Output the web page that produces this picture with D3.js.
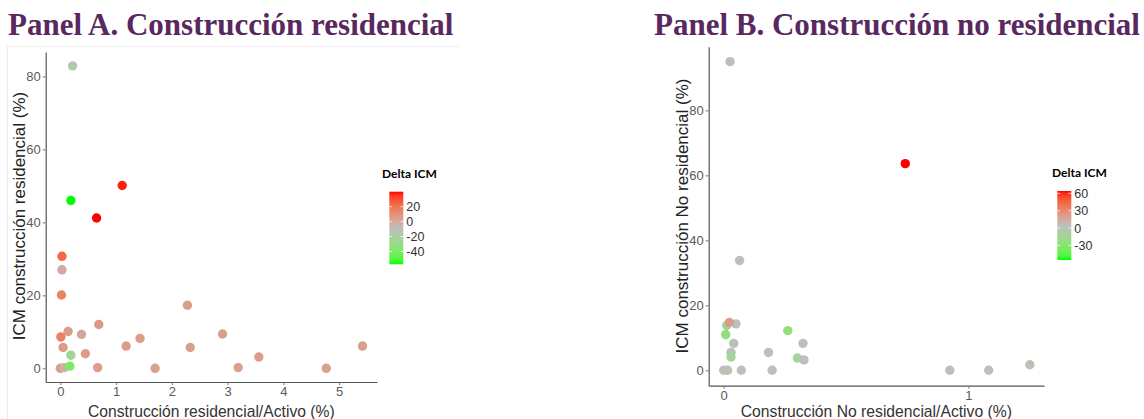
<!DOCTYPE html>
<html>
<head>
<meta charset="utf-8">
<script src="https://cdn.jsdelivr.net/npm/d3@7"></script>
<style>
  html, body { margin: 0; padding: 0; background: #fff; }
  svg { display: block; }
</style>
</head>
<body>
<svg id="chart" width="1144" height="419"></svg>
<script>
// Panel A: residential construction
const resShare = [0.22, 0.19, 1.11, 0.65, 0.03, 0.03, 0.02, 2.28, 0.69, 0.14, 0.38, 0.01, 1.43, 2.91,
                  1.18, 2.33, 5.42, 0.05, 0.45, 3.56, 0.00, 0.07, 0.67, 1.70, 3.19, 4.77, 0.19, 0.17];
const resICM   = [82.9, 46.0, 50.1, 41.2, 30.7, 27.0, 20.1, 17.3, 12.0, 10.1, 9.3, 8.6, 8.2, 9.4,
                  6.1, 5.7, 6.1, 5.7, 4.0, 3.1, 0.0, 0.2, 0.2, 0.0, 0.2, 0.0, 3.6, 0.6];
const resDelta = [-16, -57, 38, 40, 24, 0, 15, 5, 7, 6, 1, 15, 5, 5,
                  5, 4, 4, 6, 5, 5, 4, -3, 5, 4, 4, 4, -24, -40];
const resLimits = [-57, 40];
const resBreaks = [20, 0, -20, -40];

// Panel B: non-residential construction
const nresShare = [0.026, 0.742, 0.065, 0.012, 0.050, 0.023, 0.008, 0.262, 0.041, 0.324, 0.030,
                   0.183, 0.030, 0.301, 0.328, 0.000, 0.016, 0.072, 0.198, 0.924, 1.083, 1.251];
const nresICM   = [95.0, 63.6, 33.8, 13.8, 14.3, 14.7, 11.0, 12.2, 8.3, 8.3, 5.5,
                   5.5, 4.1, 3.8, 3.2, 0.0, 0.0, 0.0, 0.0, 0.0, 0.0, 1.7];
const nresDelta = [2, 64, 2, -14, 3, 22, -24, -25, 2, 2, 3,
                   1, -14, -12, 2, 2, 1, 2, 1, 2, 2, 1];
const nresLimits = [-55, 64];
const nresBreaks = [60, 30, 0, -30];

const yTicks = [0, 20, 40, 60, 80];
const resXTicks = [0, 1, 2, 3, 4, 5];
const nresXTicks = [0, 1];

const svg = d3.select("#chart");

// faint border of the left plot frame
svg.append("line").attr("x1", 7.5).attr("x2", 7.5).attr("y1", 46).attr("y2", 419)
  .attr("stroke", "#ececec");
svg.append("line").attr("x1", 7).attr("x2", 460).attr("y1", 46.5).attr("y2", 46.5)
  .attr("stroke", "#f0f0f0");

function colourScale(limits) {
  const mid = (limits[0] + limits[1]) / 2;
  return d3.scaleLinear()
    .domain([limits[0], mid, limits[1]])
    .range(["#00ff00", "#bebebe", "#ff0000"])
    .interpolate(d3.interpolateLab)
    .clamp(true);
}

function panel(cfg) {
  const g = svg.append("g");
  const x = d3.scaleLinear().domain(cfg.xDomain).range(cfg.xRange);
  const y = d3.scaleLinear().domain(cfg.yDomain).range(cfg.yRange);
  const col = colourScale(cfg.limits);
  const fmt = d3.format("~g");

  // title
  svg.append("text")
    .attr("x", cfg.titleX).attr("y", 35)
    .attr("font-family", "'Liberation Serif', 'DejaVu Serif', serif")
    .attr("font-weight", "bold")
    .attr("font-size", 31)
    .attr("fill", "#59285e")
    .text(cfg.title);

  // axes
  const xAxis = g.append("g")
    .attr("transform", `translate(0,${cfg.yRange[0]})`)
    .call(d3.axisBottom(x).tickValues(cfg.xTicks).tickFormat(fmt)
      .tickSize(3).tickSizeOuter(0).tickPadding(2));
  const yAxis = g.append("g")
    .attr("transform", `translate(${cfg.xRange[0]},0)`)
    .call(d3.axisLeft(y).tickValues(yTicks).tickFormat(fmt)
      .tickSize(3).tickSizeOuter(0).tickPadding(2));
  [xAxis, yAxis].forEach(a => {
    a.select(".domain").attr("stroke", "#555").attr("stroke-width", 1.2);
    a.selectAll(".tick line").attr("stroke", "#777");
    a.selectAll(".tick text")
      .attr("fill", "#5a5a5a")
      .attr("font-family", "'Liberation Sans', Arial, sans-serif")
      .attr("font-size", 13);
  });

  // axis titles
  g.append("text")
    .attr("x", (cfg.xRange[0] + cfg.xRange[1]) / 2)
    .attr("y", 417)
    .attr("text-anchor", "middle")
    .attr("font-family", "'Liberation Sans', Arial, sans-serif")
    .attr("font-size", 15.7)
    .attr("fill", "#333")
    .text(cfg.xTitle);
  g.append("text")
    .attr("transform", `translate(${cfg.yTitleX},${cfg.yTitleY}) rotate(-90)`)
    .attr("text-anchor", "middle")
    .attr("font-family", "'Liberation Sans', Arial, sans-serif")
    .attr("font-size", 17)
    .attr("fill", "#222")
    .text(cfg.yTitle);

  // points
  g.append("g").selectAll("circle")
    .data(d3.range(cfg.xs.length))
    .join("circle")
    .attr("cx", i => x(cfg.xs[i]))
    .attr("cy", i => y(cfg.ys[i]))
    .attr("r", 4.7)
    .attr("fill", i => col(cfg.delta[i]));

  // colour legend
  const lg = svg.append("g");
  const gradId = "grad-" + cfg.id;
  const grad = svg.append("defs").append("linearGradient")
    .attr("id", gradId).attr("x1", 0).attr("x2", 0).attr("y1", 1).attr("y2", 0);
  d3.range(0, 1.0001, 0.05).forEach(t => {
    grad.append("stop").attr("offset", t)
      .attr("stop-color", col(cfg.limits[0] + t * (cfg.limits[1] - cfg.limits[0])));
  });
  const ly = d3.scaleLinear().domain(cfg.limits).range([cfg.legend.bottom, cfg.legend.top]);
  lg.append("text")
    .attr("x", cfg.legend.titleX).attr("y", cfg.legend.top - 14)
    .attr("font-family", "Lato, 'Open Sans', sans-serif")
    .attr("font-weight", "bold")
    .attr("font-size", 12)
    .attr("fill", "#000")
    .text("Delta ICM");
  lg.append("rect")
    .attr("x", cfg.legend.x).attr("y", cfg.legend.top)
    .attr("width", 14).attr("height", cfg.legend.bottom - cfg.legend.top)
    .attr("fill", `url(#${gradId})`);
  cfg.breaks.forEach(b => {
    lg.append("line")
      .attr("x1", cfg.legend.x).attr("x2", cfg.legend.x + 3)
      .attr("y1", ly(b)).attr("y2", ly(b))
      .attr("stroke", "#fff").attr("stroke-opacity", 0.7);
    lg.append("line")
      .attr("x1", cfg.legend.x + 11).attr("x2", cfg.legend.x + 14)
      .attr("y1", ly(b)).attr("y2", ly(b))
      .attr("stroke", "#fff").attr("stroke-opacity", 0.7);
    lg.append("text")
      .attr("x", cfg.legend.x + 17).attr("y", ly(b))
      .attr("dy", "0.36em")
      .attr("font-family", "'Liberation Sans', Arial, sans-serif")
      .attr("font-size", 12.5)
      .attr("fill", "#333")
      .text(b);
  });
}

panel({
  id: "a",
  title: "Panel A. Construcción residencial",
  titleX: 8,
  xs: resShare, ys: resICM, delta: resDelta,
  xDomain: [-0.262, 5.68], xRange: [45.7, 377],
  yDomain: [-3.75, 86.7], yRange: [382, 52],
  xTicks: resXTicks,
  xTitle: "Construcción residencial/Activo (%)",
  yTitle: "ICM construcción residencial (%)",
  yTitleX: 25, yTitleY: 216,
  limits: resLimits, breaks: resBreaks,
  legend: { x: 389.3, top: 191.7, bottom: 264.3, titleX: 382 }
});

panel({
  id: "b",
  title: "Panel B. Construcción no residencial",
  titleX: 654,
  xs: nresShare, ys: nresICM, delta: nresDelta,
  xDomain: [-0.0613, 1.309], xRange: [708.7, 1044],
  yDomain: [-4.74, 99.6], yRange: [385.7, 46.7],
  xTicks: nresXTicks,
  xTitle: "Construcción No residencial/Activo (%)",
  yTitle: "ICM construcción No residencial (%)",
  yTitleX: 688, yTitleY: 216,
  limits: nresLimits, breaks: nresBreaks,
  legend: { x: 1057.3, top: 191, bottom: 260, titleX: 1052 }
});
</script>
</body>
</html>
